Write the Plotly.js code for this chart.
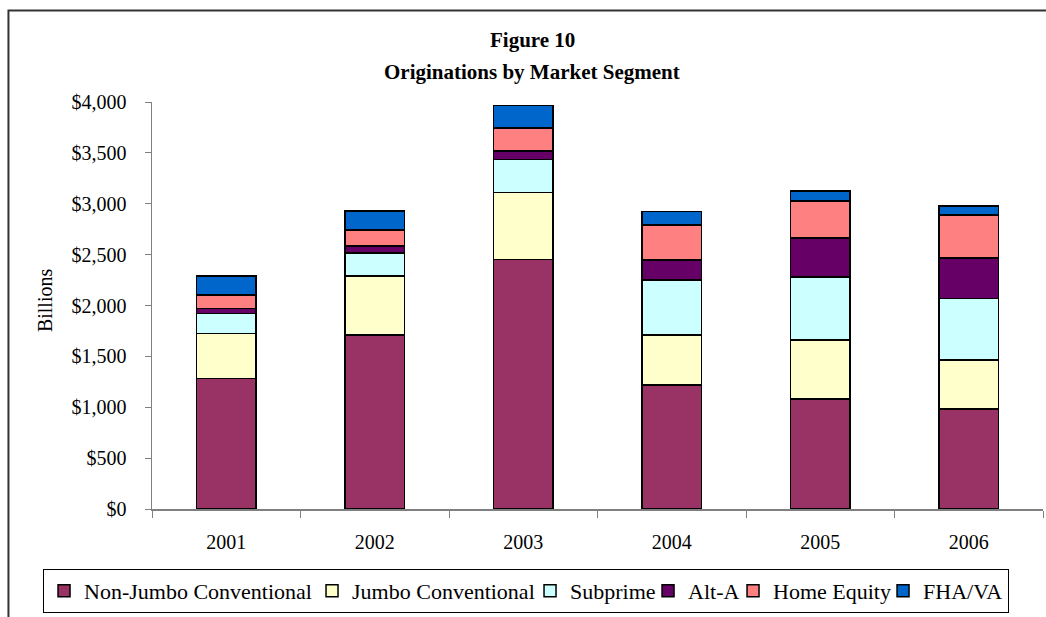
<!DOCTYPE html>
<html>
<head>
<meta charset="utf-8">
<script src="https://cdn.plot.ly/plotly-3.0.1.min.js"></script>
<style>html,body{margin:0;padding:0;background:#fff;}#chart{width:1046px;height:617px;}</style>
</head>
<body>
<div id="chart"></div>
<script>
const years = ["2001", "2002", "2003", "2004", "2005", "2006"];
const nonJumbo = [1283, 1709, 2452, 1218, 1080, 985];
const jumbo = [442, 579, 658, 491, 580, 478];
const subprime = [197, 226, 327, 540, 621, 606];
const altA = [49, 69, 82, 199, 383, 396];
const homeEquity = [134, 157, 226, 341, 361, 425];
const fhaVa = [186, 189, 222, 137, 101, 88];
const seriesNames = ["Non-Jumbo Conventional", "Jumbo Conventional", "Subprime", "Alt-A", "Home Equity", "FHA/VA"];
const seriesColors = ["#993366", "#FFFFCC", "#CCFFFF", "#660066", "#FF8080", "#0066CC"];
const legendWidths = [223, 173, 73, 40, 105, 80];
const yTicks = [0, 500, 1000, 1500, 2000, 2500, 3000, 3500, 4000];

const seriesValues = [nonJumbo, jumbo, subprime, altA, homeEquity, fhaVa];
const FONT = "Liberation Serif, Times New Roman, serif";

const traces = seriesValues.map((vals, i) => ({
  type: "bar",
  name: seriesNames[i],
  x: years,
  y: vals,
  marker: { color: seriesColors[i], line: { color: "#000", width: 1.5 } },
  legendwidth: legendWidths[i],
  hoverinfo: "name+y"
}));

const layout = {
  width: 1046,
  height: 617,
  margin: { l: 152, r: 3, t: 102, b: 108 },
  paper_bgcolor: "#fff",
  plot_bgcolor: "#fff",
  barmode: "stack",
  bargap: 0.6,
  font: { family: FONT, size: 20, color: "#000" },
  showlegend: true,
  legend: {
    orientation: "h",
    x: -0.1223, xanchor: "left",
    y: -0.147, yanchor: "top",
    bordercolor: "#000", borderwidth: 1,
    font: { family: FONT, size: 22, color: "#000" },
    traceorder: "normal",
    bgcolor: "#fff"
  },
  xaxis: {
    type: "category",
    tickson: "boundaries",
    ticks: "outside",
    ticklen: 7,
    tickcolor: "#808080",
    showline: true,
    linecolor: "#808080",
    linewidth: 1.5,
    showgrid: false,
    ticklabelstandoff: 14,
    tickfont: { family: FONT, size: 20, color: "#000" }
  },
  yaxis: {
    range: [0, 4000],
    tickvals: yTicks,
    tickformat: "$,d",
    ticks: "outside",
    ticklen: 6,
    tickcolor: "#808080",
    showline: true,
    linecolor: "#808080",
    linewidth: 1.5,
    showgrid: false,
    zeroline: false,
    ticklabelstandoff: 14,
    tickfont: { family: FONT, size: 20, color: "#000" }
  },
  annotations: [
    { text: "<b>Figure 10</b>", xref: "paper", yref: "paper", x: 0.4265, y: 1.152, xanchor: "center", yanchor: "middle", showarrow: false, font: { family: FONT, size: 21, color: "#000" } },
    { text: "<b>Originations by Market Segment</b>", xref: "paper", yref: "paper", x: 0.4265, y: 1.0737, xanchor: "center", yanchor: "middle", showarrow: false, font: { family: FONT, size: 21, color: "#000" } },
    { text: "Billions", xref: "paper", yref: "paper", x: -0.12, y: 0.5135, xanchor: "center", yanchor: "middle", textangle: -90, showarrow: false, font: { family: FONT, size: 20, color: "#000" } }
  ],
  shapes: [
    { type: "rect", xref: "paper", yref: "paper", x0: -0.1611, x1: 1.05, y0: -0.5, y1: 1.2248, line: { color: "#333", width: 2 }, fillcolor: "rgba(0,0,0,0)", layer: "below" }
  ]
};

Plotly.newPlot("chart", traces, layout, { displayModeBar: false, staticPlot: true });
</script>
</body>
</html>
